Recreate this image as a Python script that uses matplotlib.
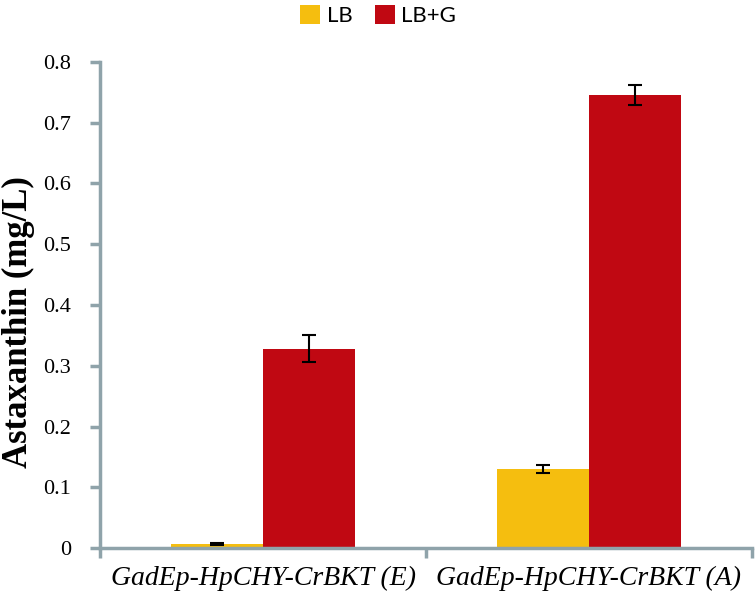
import matplotlib
matplotlib.use("Agg")
import matplotlib.pyplot as plt
import numpy as np

categories = ["GadEp-HpCHY-CrBKT (E)", "GadEp-HpCHY-CrBKT (A)"]
series_names = ["LB", "LB+G"]
lb_values = [0.007, 0.130]
lbg_values = [0.328, 0.746]
lb_err = [0.002, 0.006]
lbg_err = [0.022, 0.016]
yticks = [0, 0.1, 0.2, 0.3, 0.4, 0.5, 0.6, 0.7, 0.8]
ytick_labels = ["0", "0.1", "0.2", "0.3", "0.4", "0.5", "0.6", "0.7", "0.8"]

colors = ["#F5BE0F", "#C00812"]
axis_color = "#8FA3AA"

fig = plt.figure(figsize=(7.56, 5.96), dpi=100)
ax = fig.add_axes([0.1323, 0.0805, 0.8624, 0.8155])

x = np.arange(len(categories))
w = 0.282
ekw = dict(ecolor="black", elinewidth=1.5, capsize=5, capthick=1.5)
ax.bar(x - w / 2, lb_values, w, color=colors[0], label=series_names[0],
       yerr=lb_err, error_kw=ekw, zorder=2)
ax.bar(x + w / 2, lbg_values, w, color=colors[1], label=series_names[1],
       yerr=lbg_err, error_kw=ekw, zorder=2)

ax.set_xlim(-0.5, 1.5)
ax.set_ylim(0, 0.8)
ax.set_yticks(yticks)
ax.set_yticklabels(ytick_labels, fontfamily="Liberation Serif", fontsize=16)
ax.set_xticks([-0.5, 0.5, 1.5])
ax.set_xticklabels([])
ax.set_xticks(x, minor=True)
ax.set_xticklabels(categories, minor=True, fontfamily="Liberation Serif",
                   fontstyle="italic", fontsize=20)
ax.tick_params(axis="x", which="minor", length=0, pad=13)
ax.tick_params(axis="x", which="major", length=7, width=2.5, color=axis_color)
ax.tick_params(axis="y", length=7, width=2.5, color=axis_color, pad=14)

for s in ["top", "right"]:
    ax.spines[s].set_visible(False)
for s in ["left", "bottom"]:
    ax.spines[s].set_color(axis_color)
    ax.spines[s].set_linewidth(2.5)

ax.set_ylabel("Astaxanthin (mg/L)", fontfamily="Liberation Serif",
              fontweight="bold", fontsize=25, labelpad=3)
ax.yaxis.set_label_coords(-0.1, 0.465)

leg = fig.legend(loc="upper center", bbox_to_anchor=(0.5, 1.025), ncol=2,
                 frameon=False, prop={"family": "Lato", "size": 16},
                 handlelength=0.9, handleheight=0.9, handletextpad=0.3,
                 columnspacing=1.0)

fig.savefig("out.png", dpi=100)
